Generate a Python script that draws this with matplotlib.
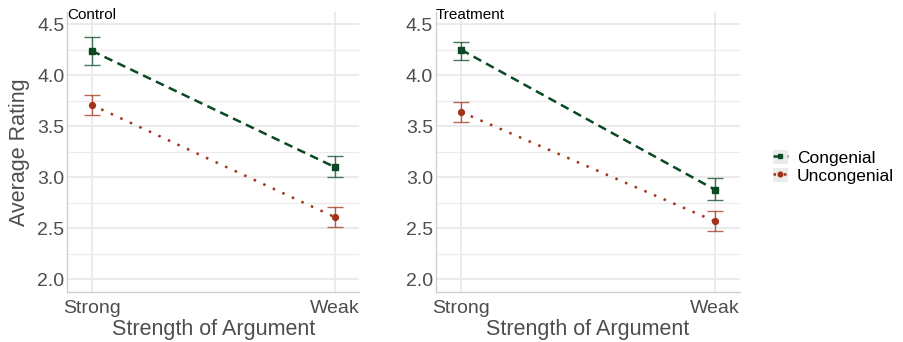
import numpy as np
import matplotlib
matplotlib.use("Agg")
import matplotlib.pyplot as plt
from matplotlib.ticker import MultipleLocator
from matplotlib.patches import Patch
from matplotlib.legend_handler import HandlerTuple

# ── Data ──────────────────────────────────────────────────────────────────────
strength = ["Strong", "Weak"]
panels = ["Control", "Treatment"]

cong_mean = {"Control": [4.24, 3.10], "Treatment": [4.25, 2.88]}
cong_lo   = {"Control": [4.10, 3.00], "Treatment": [4.15, 2.78]}
cong_hi   = {"Control": [4.37, 3.21], "Treatment": [4.33, 2.99]}

unc_mean  = {"Control": [3.71, 2.61], "Treatment": [3.64, 2.57]}
unc_lo    = {"Control": [3.61, 2.51], "Treatment": [3.54, 2.47]}
unc_hi    = {"Control": [3.81, 2.71], "Treatment": [3.74, 2.67]}

# ── Style ─────────────────────────────────────────────────────────────────────
GREEN = "#0a4a22"
RED   = "#a2321a"
GRID  = "#ebebeb"
TXT   = "#4d4d4d"
plt.rcParams["font.family"] = ["Liberation Sans", "DejaVu Sans"]

fig = plt.figure(figsize=(9.04, 3.42), dpi=100)
ax_boxes = [[0.0745, 0.146, 0.3227, 0.819],
            [0.482, 0.146, 0.3366, 0.819]]

x = np.arange(len(strength))
handles = []
for box, panel in zip(ax_boxes, panels):
    ax = fig.add_axes(box)
    ax.set_xlim(-0.1, 1.1)
    ax.set_ylim(1.875, 4.62)
    ax.yaxis.set_major_locator(MultipleLocator(0.5))
    ax.yaxis.set_minor_locator(MultipleLocator(0.25))
    ax.set_xticks(x)
    ax.set_xticklabels(strength)
    ax.grid(True, which="major", color=GRID, linewidth=1.4)
    ax.grid(True, which="minor", axis="y", color=GRID, linewidth=0.9)
    ax.set_axisbelow(True)
    for s in ["top", "right"]:
        ax.spines[s].set_visible(False)
    for s in ["left", "bottom"]:
        ax.spines[s].set_color("#cccccc")
        ax.spines[s].set_linewidth(0.9)
    ax.tick_params(which="both", length=0, labelsize=14, labelcolor=TXT)
    ax.tick_params(axis="x", pad=6)
    ax.tick_params(axis="y", pad=2)

    m, lo, hi = np.array(cong_mean[panel]), np.array(cong_lo[panel]), np.array(cong_hi[panel])
    ax.errorbar(x, m, yerr=[m - lo, hi - m], fmt="none", ecolor=GREEN,
                elinewidth=1.0, capsize=6, capthick=1.0, alpha=0.75)
    h1, = ax.plot(x, m, color=GREEN, linestyle=(0, (3.5, 2.2)), linewidth=1.8,
                  marker="s", markersize=3.8)

    m, lo, hi = np.array(unc_mean[panel]), np.array(unc_lo[panel]), np.array(unc_hi[panel])
    ax.errorbar(x, m, yerr=[m - lo, hi - m], fmt="none", ecolor=RED,
                elinewidth=1.0, capsize=6, capthick=1.0, alpha=0.75)
    h2, = ax.plot(x, m, color=RED, linestyle=(0, (1, 3.2)), linewidth=1.8,
                  marker="o", markersize=4.2)
    handles = [h1, h2]

    ax.set_xlabel("Strength of Argument", fontsize=15.5, color=TXT, labelpad=1)
    ax.text(0.0, 1.015, panel, transform=ax.transAxes, fontsize=11,
            color="black", ha="left", va="top")
    if panel == "Control":
        ax.set_ylabel("Average Rating", fontsize=15.5, color=TXT, labelpad=5)

bg = Patch(facecolor="#ebebeb", edgecolor="none")
leg = fig.legend([(bg, handles[0]), (bg, handles[1])], ["Congenial", "Uncongenial"],
                 handler_map={tuple: HandlerTuple(ndivide=1)},
                 loc="center left", bbox_to_anchor=(0.845, 0.512),
                 borderpad=0, frameon=False, fontsize=12.5,
                 handlelength=0.9, handleheight=0.9,
                 handletextpad=0.5, labelspacing=0.1, markerscale=0.8)

fig.savefig("out.png", dpi=100)
